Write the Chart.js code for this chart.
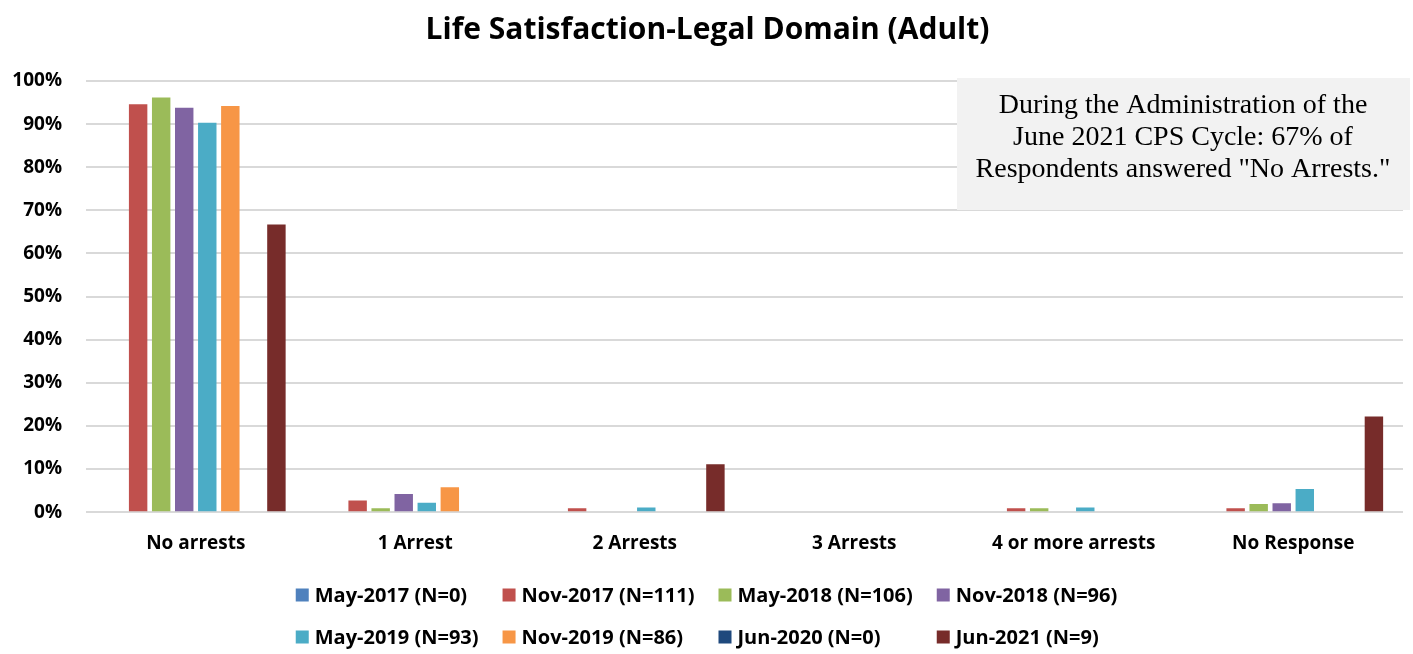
<!DOCTYPE html>
<html lang="en">
<head>
    <meta charset="UTF-8">
    <title>Life Satisfaction-Legal Domain (Adult)</title>
    <style>
        html, body { margin: 0; padding: 0; background: #fff; }
        .chart-wrap { width: 1413px; height: 654px; }
    </style>
</head>
<body>

<div class="chart-wrap">
    <canvas id="legal-domain"></canvas>
</div>

<script src="https://cdn.jsdelivr.net/npm/chart.js"></script>

<script>
    const categories = ['No arrests', '1 Arrest', '2 Arrests', '3 Arrests', '4 or more arrests', 'No Response']

    const may2017 = [0, 0, 0, 0, 0, 0]
    const nov2017 = [94.6, 2.7, 0.9, 0, 0.9, 0.9]
    const may2018 = [96.2, 0.9, 0, 0, 0.9, 1.9]
    const nov2018 = [93.8, 4.2, 0, 0, 0, 2.1]
    const may2019 = [90.3, 2.2, 1.1, 0, 1.1, 5.4]
    const nov2019 = [94.2, 5.8, 0, 0, 0, 0]
    const jun2020 = [0, 0, 0, 0, 0, 0]
    const jun2021 = [66.7, 0, 11.1, 0, 0, 22.2]

    const seriesLabels = [
        'May-2017 (N=0)', 'Nov-2017 (N=111)', 'May-2018 (N=106)', 'Nov-2018 (N=96)',
        'May-2019 (N=93)', 'Nov-2019 (N=86)', 'Jun-2020 (N=0)', 'Jun-2021 (N=9)'
    ]
    const seriesColors = ['#4f81bd', '#c0504d', '#9bbb59', '#8064a2', '#4bacc6', '#f79646', '#1f497d', '#772c2a']
    const seriesValues = [may2017, nov2017, may2018, nov2018, may2019, nov2019, jun2020, jun2021]

    const noteLines = [
        'During the Administration of the',
        'June 2021 CPS Cycle: 67% of',
        'Respondents answered "No Arrests."'
    ]

    const sansFont = '"Open Sans", Lato, sans-serif'

    // text box in the upper right corner
    const noteBox = {
        id: 'noteBox',
        afterDraw(chart) {
            const ctx = chart.ctx
            ctx.save()
            ctx.fillStyle = '#f2f2f2'
            ctx.fillRect(957, 78, 453, 132)
            ctx.fillStyle = '#000'
            ctx.font = '28px "Liberation Serif", "Times New Roman", serif'
            ctx.textAlign = 'center'
            ctx.textBaseline = 'middle'
            noteLines.forEach((line, i) => {
                ctx.fillText(line, 1183, 106 + i * 32)
            })
            ctx.restore()
        }
    }

    // two-row legend, four columns, like the original
    const gridLegend = {
        id: 'gridLegend',
        afterDraw(chart) {
            const ctx = chart.ctx
            const cols = 4
            const box = 13
            const gap = 6
            const colGap = 24
            ctx.save()
            ctx.font = 'bold 20px ' + sansFont
            ctx.textBaseline = 'middle'
            const items = chart.data.datasets.map(ds => ({
                text: ds.label,
                color: ds.backgroundColor,
                w: box + gap + ctx.measureText(ds.label).width
            }))
            const colW = []
            for (let c = 0; c < cols; c++) {
                let m = 0
                for (let i = c; i < items.length; i += cols) m = Math.max(m, items[i].w)
                colW.push(m)
            }
            const total = colW.reduce((a, b) => a + b, 0) + colGap * (cols - 1)
            const x0 = (chart.width - total) / 2
            items.forEach((it, i) => {
                const c = i % cols
                const r = Math.floor(i / cols)
                let x = x0
                for (let k = 0; k < c; k++) x += colW[k] + colGap
                const y = 595 + r * 42
                ctx.fillStyle = it.color
                ctx.fillRect(x, y - box / 2, box, box)
                ctx.fillStyle = '#000'
                ctx.fillText(it.text, x + box + gap, y + 1)
            })
            ctx.restore()
        }
    }

    new Chart(document.getElementById('legal-domain'), {
        type: 'bar',
        data: {
            labels: categories,
            datasets: seriesLabels.map((label, i) => ({
                label: label,
                data: seriesValues[i],
                backgroundColor: seriesColors[i],
                borderWidth: 0,
                categoryPercentage: 0.84,
                barPercentage: 0.8
            }))
        },
        options: {
            responsive: true,
            maintainAspectRatio: false,
            animation: false,
            layout: {
                padding: { left: 12, right: 10, top: 0, bottom: 87 }
            },
            plugins: {
                legend: { display: false },
                tooltip: { enabled: false },
                title: {
                    display: true,
                    text: 'Life Satisfaction-Legal Domain (Adult)',
                    color: '#000',
                    font: { family: sansFont, size: 30, weight: 'bold' },
                    padding: { top: 12, bottom: 33 }
                }
            },
            scales: {
                x: {
                    grid: { display: false },
                    border: { display: false },
                    ticks: {
                        color: '#000',
                        padding: 12,
                        font: { family: sansFont, size: 19, weight: 'bold' }
                    }
                },
                y: {
                    min: 0,
                    max: 100,
                    border: { display: false },
                    grid: { color: '#d9d9d9', lineWidth: 2, drawTicks: false },
                    afterFit: scale => { scale.width = 74 },
                    ticks: {
                        stepSize: 10,
                        color: '#000',
                        padding: 24,
                        font: { family: sansFont, size: 19, weight: 'bold' },
                        callback: v => v + '%'
                    }
                }
            }
        },
        plugins: [noteBox, gridLegend]
    })
</script>

</body>
</html>
